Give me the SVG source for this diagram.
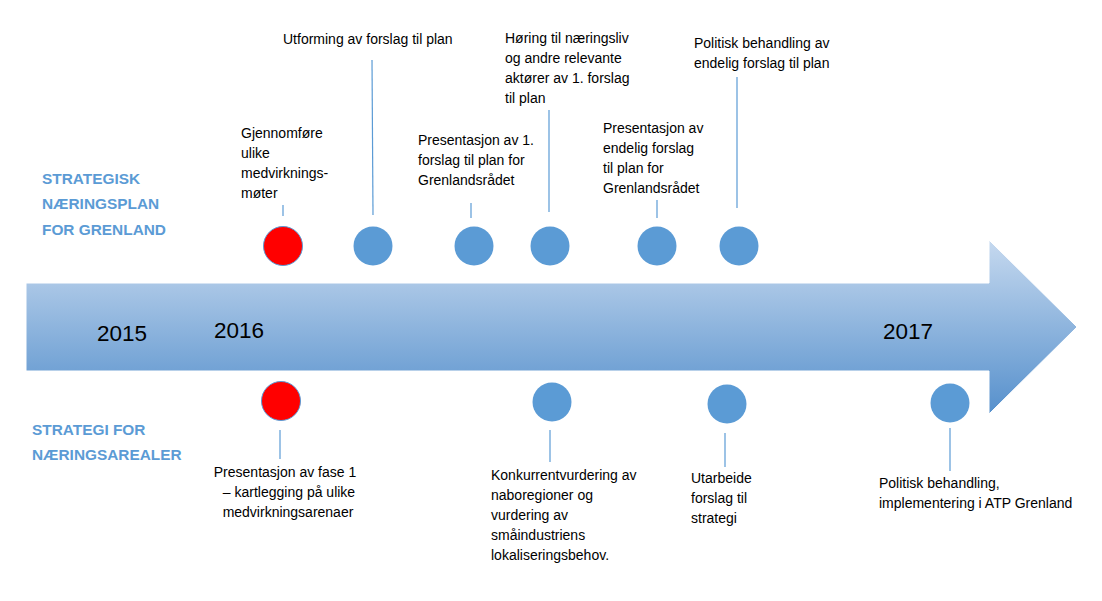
<svg xmlns="http://www.w3.org/2000/svg" width="1102" height="601" viewBox="0 0 1102 601">
<style>
.t{font-family:"Liberation Sans",Arial,sans-serif;font-size:14px;fill:#000}
.h{font-family:"Liberation Sans",Arial,sans-serif;font-size:15.4px;font-weight:bold;fill:#5b9bd5}
.y{font-family:"Liberation Sans",Arial,sans-serif;font-size:22.5px;fill:#000}
.b{fill:#5b9bd5}
.r{fill:#ff0000;stroke:#5b9bd5;stroke-width:1}
.c line{stroke:#5b9bd5;stroke-width:1.2}
</style>
<defs>
<linearGradient id="g" x1="0" y1="0" x2="0" y2="1">
<stop offset="0" stop-color="#c6d9ef"/>
<stop offset="1" stop-color="#5690cc"/>
</linearGradient>
</defs>
<rect width="1102" height="601" fill="#fff"/>
<g id="arrow">
<path d="M26,283 H989 V240 L1077,327 L989,414 V371 H26 Z" fill="url(#g)" stroke="#ffffff" stroke-width="1"/>
<text class="y" x="97" y="341">2015</text>
<text class="y" x="214" y="338">2016</text>
<text class="y" x="883" y="339">2017</text>
</g>
<g id="labels">
<text class="h" x="42" y="184">STRATEGISK</text>
<text class="h" x="42" y="209">NÆRINGSPLAN</text>
<text class="h" x="42" y="235">FOR GRENLAND</text>
<text class="h" x="32" y="435">STRATEGI FOR</text>
<text class="h" x="32" y="460">NÆRINGSAREALER</text>
</g>
<g id="connectors" class="c">
<line x1="283" y1="205" x2="283" y2="216"/>
<line x1="372" y1="60" x2="373" y2="215"/>
<line x1="471" y1="203" x2="471" y2="218"/>
<line x1="549" y1="110" x2="549" y2="212"/>
<line x1="657" y1="200" x2="657" y2="218"/>
<line x1="737" y1="77" x2="737" y2="208"/>
<line x1="280" y1="430" x2="280" y2="459"/>
<line x1="550" y1="430" x2="550" y2="462"/>
<line x1="725" y1="433" x2="725" y2="467"/>
<line x1="950" y1="428" x2="950" y2="471"/>
</g>
<g id="n1"><circle class="r" cx="283" cy="246" r="19.5"/>
<text class="t" x="241" y="138">Gjennomføre</text><text class="t" x="241" y="158">ulike</text><text class="t" x="241" y="178">medvirknings-</text><text class="t" x="241" y="198">møter</text></g>
<g id="n2"><circle class="b" cx="373" cy="246" r="19.5"/>
<text class="t" x="283" y="44">Utforming av forslag til plan</text></g>
<g id="n3"><circle class="b" cx="474" cy="246" r="19.5"/>
<text class="t" x="418" y="145">Presentasjon av 1.</text><text class="t" x="418" y="165">forslag til plan for</text><text class="t" x="418" y="185">Grenlandsrådet</text></g>
<g id="n4"><circle class="b" cx="550" cy="246" r="19.5"/>
<text class="t" x="505" y="43">Høring til næringsliv</text><text class="t" x="505" y="63">og andre relevante</text><text class="t" x="505" y="83">aktører av 1. forslag</text><text class="t" x="505" y="103">til plan</text></g>
<g id="n5"><circle class="b" cx="657" cy="246" r="19.5"/>
<text class="t" x="603" y="133">Presentasjon av</text><text class="t" x="603" y="153">endelig forslag</text><text class="t" x="603" y="173">til plan for</text><text class="t" x="603" y="193">Grenlandsrådet</text></g>
<g id="n6"><circle class="b" cx="739" cy="246" r="19.5"/>
<text class="t" x="694" y="48">Politisk behandling av</text><text class="t" x="694" y="68">endelig forslag til plan</text></g>
<g id="m1"><circle class="r" cx="281" cy="401" r="19.5"/>
<text class="t" text-anchor="middle" x="285" y="477">Presentasjon av fase 1</text><text class="t" text-anchor="middle" x="289" y="497">– kartlegging på ulike</text><text class="t" text-anchor="middle" x="288" y="517">medvirkningsarenaer</text></g>
<g id="m2"><circle class="b" cx="552" cy="402" r="19.5"/>
<text class="t" x="491" y="480">Konkurrentvurdering av</text><text class="t" x="491" y="500">naboregioner og</text><text class="t" x="491" y="520">vurdering av</text><text class="t" x="491" y="540">småindustriens</text><text class="t" x="491" y="560">lokaliseringsbehov.</text></g>
<g id="m3"><circle class="b" cx="727" cy="404" r="19.5"/>
<text class="t" x="691" y="483">Utarbeide</text><text class="t" x="691" y="503">forslag til</text><text class="t" x="691" y="523">strategi</text></g>
<g id="m4"><circle class="b" cx="950" cy="403" r="19.5"/>
<text class="t" x="879" y="488">Politisk behandling,</text><text class="t" x="879" y="508">implementering i ATP Grenland</text></g>
</svg>
